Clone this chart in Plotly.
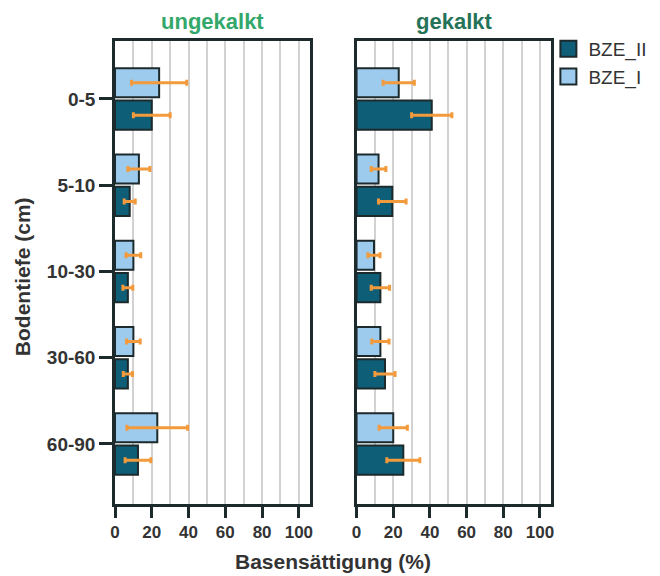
import plotly.graph_objects as go
from plotly.subplots import make_subplots

depths = ["0-5", "5-10", "10-30", "30-60", "60-90"]

# ungekalkt
ung_bze1 = [24, 13, 10, 10, 23]
ung_bze1_err = [15, 6, 4, 3.7, 16.5]
ung_bze2 = [20, 8, 7, 7, 12.5]
ung_bze2_err = [10, 3, 2.7, 2.5, 7]

# gekalkt
gek_bze1 = [23, 12, 9.5, 13, 20]
gek_bze1_err = [8.5, 4, 3.3, 4.7, 7.7]
gek_bze2 = [41, 19.5, 13, 15.5, 25.5]
gek_bze2_err = [11, 7.5, 5, 5.5, 9]

panel_titles = ["ungekalkt", "gekalkt"]
x_ticks = [0, 20, 40, 60, 80, 100]

LIGHT = "#9dcbee"
DARK = "#0f5e78"
EDGE = "#1c2a2c"
ORANGE = "#f29a3c"
TXT = "#333333"
FONT = "Liberation Sans, Arial, sans-serif"

fig = make_subplots(rows=1, cols=2, shared_yaxes=False, horizontal_spacing=0.107)

panels = [
    (ung_bze1, ung_bze1_err, ung_bze2, ung_bze2_err),
    (gek_bze1, gek_bze1_err, gek_bze2, gek_bze2_err),
]

for i, (b1, e1, b2, e2) in enumerate(panels):
    col = i + 1
    fig.add_trace(go.Bar(
        y=depths, x=b1, orientation="h", name="BZE_I",
        marker=dict(color=LIGHT, line=dict(color=EDGE, width=2)),
        error_x=dict(type="data", array=e1, color=ORANGE, thickness=3, width=3),
        showlegend=False,
    ), row=1, col=col)
    fig.add_trace(go.Bar(
        y=depths, x=b2, orientation="h", name="BZE_II",
        marker=dict(color=DARK, line=dict(color=EDGE, width=2)),
        error_x=dict(type="data", array=e2, color=ORANGE, thickness=3, width=3),
        showlegend=False,
    ), row=1, col=col)

# legend entries with large square swatches (no data drawn)
for name, color, rank in [("BZE_II", DARK, 1), ("BZE_I", LIGHT, 2)]:
    fig.add_trace(go.Scatter(
        x=[None], y=[None], mode="markers", name=name, legendrank=rank,
        marker=dict(symbol="square", size=19, color=color, line=dict(color=EDGE, width=2)),
        showlegend=True,
    ), row=1, col=2)

left_dom = [0.0, 0.447]
right_dom = [0.554, 1.0]

xaxis_common = dict(
    range=[0, 106], tickvals=x_ticks, ticks="outside", ticklen=11, tickwidth=2.5,
    tickcolor=EDGE, showline=True, linecolor=EDGE, linewidth=2.5, mirror=True,
    showgrid=True, gridcolor="#d2d2d2", gridwidth=2,
    minor=dict(dtick=10, tick0=0, showgrid=True, gridcolor="#d2d2d2", gridwidth=2),
    tickfont=dict(family=FONT, size=17, color=TXT, weight="bold"),
    zeroline=False, fixedrange=True, automargin=False,
)
yaxis_common = dict(
    categoryorder="array", categoryarray=depths,
    range=[4.696, -0.672], ticks="outside", ticklen=13, tickwidth=2.5,
    tickcolor=EDGE, showline=True, linecolor=EDGE, linewidth=2.5, mirror=True,
    showgrid=False, zeroline=False, automargin=False,
)

fig.update_xaxes(domain=left_dom, row=1, col=1, **xaxis_common)
fig.update_xaxes(domain=right_dom, row=1, col=2, **xaxis_common)
fig.update_yaxes(row=1, col=1, tickfont=dict(family=FONT, size=19, color=TXT, weight="bold"),
                 **yaxis_common)
fig.update_yaxes(row=1, col=2, showticklabels=False, **yaxis_common)
fig.update_yaxes(ticks="", row=1, col=2)

annotations = [
    dict(text=panel_titles[0], x=sum(left_dom) / 2, y=1.0, xref="paper", yref="paper",
         xanchor="center", yanchor="middle", yshift=20, showarrow=False,
         font=dict(family=FONT, size=22, color="#33a86a", weight="bold")),
    dict(text=panel_titles[1], x=sum(right_dom) / 2, y=1.0, xref="paper", yref="paper",
         xanchor="center", yanchor="middle", yshift=20, showarrow=False,
         font=dict(family=FONT, size=22, color="#247358", weight="bold")),
    dict(text="Basensättigung (%)", x=0.5, y=0, xref="paper", yref="paper",
         xanchor="center", yanchor="middle", yshift=-57, showarrow=False,
         font=dict(family=FONT, size=21, color=TXT, weight="bold")),
    dict(text="Bodentiefe (cm)", x=0, y=0.49, xref="paper", yref="paper",
         xanchor="center", yanchor="middle", xshift=-93, textangle=-90, showarrow=False,
         font=dict(family=FONT, size=21, color=TXT, weight="bold")),
]

fig.update_layout(
    width=652, height=568,
    margin=dict(l=107, r=109, t=33, b=72, autoexpand=False),
    barmode="group", bargap=0.25, bargroupgap=0.1,
    plot_bgcolor="white", paper_bgcolor="white",
    annotations=annotations,
    legend=dict(x=0.994, y=1.024, xanchor="left", yanchor="top",
                font=dict(family=FONT, size=19, color=TXT),
                bgcolor="rgba(0,0,0,0)", itemwidth=30, tracegroupgap=0,
                traceorder="normal"),
    font=dict(family=FONT),
)

fig.write_html("out.html")
